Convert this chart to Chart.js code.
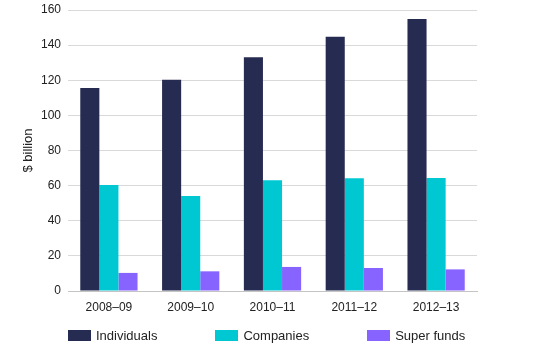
<!DOCTYPE html>
<html>
<head>
<meta charset="utf-8">
<script src="https://cdn.jsdelivr.net/npm/chart.js@4/dist/chart.umd.min.js"></script>
<style>
  html, body { margin: 0; padding: 0; background: #fff; }
  .wrap { position: relative; width: 540px; height: 349px; }
  #revenueChart { position: absolute; left: 0; top: 0; }
  .legend {
    position: absolute; left: 68px; top: 328px;
    display: flex; align-items: center;
    font: 13px "Liberation Sans", Arial, sans-serif; color: #222;
  }
  .legend-item { display: flex; align-items: center; margin-right: 58px; }
  .legend-box { width: 23px; height: 11px; margin-right: 5px; }
</style>
</head>
<body>
<div class="wrap">
  <canvas id="revenueChart" width="540" height="349"></canvas>
  <div class="legend" id="chartLegend"></div>
</div>
<script>
  const YEARS = ["2008\u201309", "2009\u201310", "2010\u201311", "2011\u201312", "2012\u201313"];
  const INDIVIDUALS = [115.6, 120.3, 133.1, 144.8, 154.9];
  const COMPANIES = [60.4, 54.1, 63.0, 64.2, 64.4];
  const SUPER_FUNDS = [10.3, 11.2, 13.7, 13.1, 12.3];
  const SERIES_NAMES = ["Individuals", "Companies", "Super funds"];
  const Y_TICKS = [0, 20, 40, 60, 80, 100, 120, 140, 160];

  const COLORS = ["#262b52", "#00c8d2", "#8763ff"];
  const FONT = "'Liberation Sans', Arial, sans-serif";

  function makeDataset(label, values, color) {
    return {
      label: label,
      data: values,
      backgroundColor: color,
      borderWidth: 0,
      categoryPercentage: 0.7,
      barPercentage: 1.0,
    };
  }

  function renderLegend(chart) {
    const box = document.getElementById("chartLegend");
    box.innerHTML = chart.data.datasets
      .map((ds) => `
        <div class="legend-item">
          <span class="legend-box" style="background:${ds.backgroundColor}"></span>
          <span>${ds.label}</span>
        </div>`)
      .join("");
  }

  const chart = new Chart(document.getElementById("revenueChart"), {
    type: "bar",
    data: {
      labels: YEARS,
      datasets: [
        makeDataset(SERIES_NAMES[0], INDIVIDUALS, COLORS[0]),
        makeDataset(SERIES_NAMES[1], COMPANIES, COLORS[1]),
        makeDataset(SERIES_NAMES[2], SUPER_FUNDS, COLORS[2]),
      ],
    },
    options: {
      responsive: false,
      animation: false,
      layout: { padding: { left: 21, right: 63, top: 0, bottom: 34 } },
      plugins: {
        legend: { display: false },
        tooltip: { enabled: false },
      },
      scales: {
        x: {
          afterFit: (axis) => { axis.height = 24; },
          grid: { display: false, drawTicks: false },
          border: { color: "#c4c4c4", width: 1 },
          ticks: { color: "#222", padding: 9, font: { family: FONT, size: 12 } },
        },
        y: {
          min: 0,
          max: 160,
          afterBuildTicks: (axis) => { axis.ticks = Y_TICKS.map((v) => ({ value: v })); },
          afterFit: (axis) => { axis.width = 47; axis.paddingTop = 10; },
          grid: { color: "#d9d9d9", lineWidth: 1, drawTicks: false },
          border: { display: false },
          ticks: { color: "#222", padding: 7, font: { family: FONT, size: 12 } },
          title: {
            display: true,
            text: "$ billion",
            color: "#222",
            font: { family: FONT, size: 13 },
            padding: { top: 0, bottom: 5 },
          },
        },
      },
    },
  });

  renderLegend(chart);
</script>
</body>
</html>
